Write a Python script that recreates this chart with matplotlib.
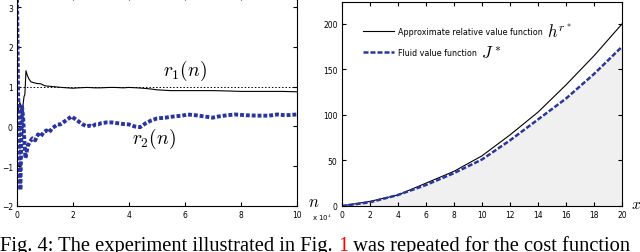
import numpy as np
import matplotlib
matplotlib.use('Agg')
import matplotlib.pyplot as plt

plt.rcParams['mathtext.fontset'] = 'cm'

# left panel: r1(n), r2(n), n in units of 1e4
n_r1 = [0.05, 0.1, 0.15, 0.2, 0.25, 0.28, 0.32, 0.36, 0.42, 0.5, 0.6, 0.7, 0.85, 1.0, 1.15, 1.3,
        1.45, 1.6, 1.8, 2.0, 2.2, 2.5, 2.8, 3.0, 3.3, 3.5, 3.8, 4.0, 4.3, 4.5, 4.8, 5.0, 5.5,
        6.0, 6.5, 7.0, 7.6, 8.0, 8.5, 9.0, 9.5, 10.0]
r1 = [0.4, 0.6, 0.5, 0.45, 0.75, 0.8, 1.4, 1.3, 1.2, 1.12, 1.1, 1.08, 1.07, 1.02, 1.01, 1.0,
      0.99, 0.98, 0.97, 0.96, 0.97, 0.98, 0.97, 0.97, 0.98, 0.98, 0.97, 0.98, 0.97, 0.96, 0.94, 0.92, 0.9,
      0.9, 0.9, 0.9, 0.89, 0.88, 0.88, 0.88, 0.88, 0.87]

n_r2 = [0.0, 0.02, 0.04, 0.06, 0.08, 0.1, 0.12, 0.15, 0.18, 0.22, 0.25, 0.3, 0.33, 0.38, 0.45,
        0.55, 0.65, 0.75, 0.85, 0.95, 1.05, 1.15, 1.25, 1.35, 1.45, 1.55, 1.65, 1.75, 1.85, 1.95,
        2.05, 2.15, 2.25, 2.35, 2.5, 2.6, 2.7, 2.8, 2.9, 3.0, 3.2, 3.4, 3.6, 3.8, 4.0, 4.2, 4.4,
        4.6, 4.8, 5.0, 5.3, 5.6, 5.9, 6.1, 6.4, 6.7, 7.0, 7.2, 7.5, 7.8, 8.2, 8.6, 9.0, 9.3, 9.6, 10.0]
r2 = [3.3, 2.0, 0.8, 0.3, -0.5, -1.2, -1.6, -0.4, 0.5, 0.2, -0.2, -0.8, -0.7, -0.5, -0.4,
      -0.3, -0.35, -0.2, -0.25, -0.15, -0.1, -0.15, -0.05, 0.0, 0.05, 0.05, 0.1, 0.15, 0.2, 0.25,
      0.2, 0.15, 0.1, 0.05, 0.0, 0.02, 0.0, 0.05, 0.05, 0.08, 0.1, 0.1, 0.08, 0.06, 0.05, 0.0, -0.02,
      0.08, 0.15, 0.2, 0.22, 0.25, 0.27, 0.3, 0.28, 0.25, 0.22, 0.25, 0.28, 0.3, 0.28, 0.27, 0.27, 0.3, 0.28, 0.3]

# right panel: value functions
x_vals = [0, 2, 4, 6, 8, 10, 12, 14, 16, 18, 20]
h_vals = [0, 5, 12, 25, 38, 55, 78, 103, 133, 165, 200]
j_vals = [0, 4, 12, 23, 36, 51, 72, 95, 118, 145, 175]

blue = '#2a35a0'
fig = plt.figure(figsize=(6.4, 2.53), dpi=100)
renderer = fig.canvas.get_renderer()

ax1 = fig.add_axes([0.0266, 0.182, 0.437, 0.83])
ax1.plot(n_r1, r1, color='black', lw=0.8)
ax1.plot([0.2, 10], [1, 1], color='black', lw=0.7, linestyle=(0, (1.5, 2)))
ax1.plot(n_r2, r2, color=blue, lw=2.8, linestyle=(0, (1, 0.5)))
ax1.set_xlim(0, 10)
ax1.set_ylim(-2, 3.28)
ax1.set_xticks(range(0, 11, 2))
ax1.set_yticks(range(-2, 4))
ax1.text(6.0, 1.43, r'$r_1(n)$', fontsize=14, ha='center', va='center')
ax1.text(4.9, -0.3, r'$r_2(n)$', fontsize=14, ha='center', va='center')
ax1.text(10.6, -1.88, r'$n$', fontsize=12, ha='center', va='center')
ax1.text(10.55, -2.28, r'x 10$^4$', fontsize=5, ha='left', va='center')

ax2 = fig.add_axes([0.534, 0.182, 0.438, 0.806])
ax2.fill_between(x_vals, j_vals, 0, color='#f0f0f0', lw=0)
ax2.plot(x_vals, h_vals, color='black', lw=0.8, label='Approximate relative value function')
ax2.plot(x_vals, j_vals, color=blue, lw=1.8, linestyle=(0, (2, 0.8)), label='Fluid value function')
ax2.set_xlim(0, 20)
ax2.set_ylim(0, 224)
ax2.set_xticks(range(0, 21, 2))
ax2.set_yticks(range(0, 201, 50))
leg = ax2.legend(loc='upper left', bbox_to_anchor=(0.05, 0.915), frameon=False, fontsize=5.8,
                 handlelength=3.8, handletextpad=0.6, labelspacing=1.5)
ax2.text(20.65, 3, r'$x$', fontsize=11, ha='left', va='center')

# the big math symbols that follow the legend texts
fig.canvas.draw()
for lt, sym in zip(leg.get_texts(), [r'$h^{r^*}$', r'$J^*$']):
    bb = lt.get_window_extent(renderer)
    fig.text((bb.x1 + 4) / fig.bbox.width, (bb.y0 + bb.y1) / 2 / fig.bbox.height, sym,
             fontsize=12, va='center', ha='left')

for ax in (ax1, ax2):
    ax.tick_params(direction='in', labelsize=5.5, length=3, top=True, right=True, pad=3)
    for s in ax.spines.values():
        s.set_linewidth(0.8)

# caption, with the red "1"
parts = [('Fig. 4: The experiment illustrated in Fig. ', 'black'), ('1', 'red'),
         (' was repeated for the cost function', 'black')]
x0 = 0.0
for txt, col in parts:
    t = fig.text(x0, 0.008, txt, fontsize=14.75, color=col, family='Liberation Serif', va='baseline')
    bb = t.get_window_extent(renderer)
    x0 = bb.x1 / fig.bbox.width

fig.savefig('out.png', dpi=100)
